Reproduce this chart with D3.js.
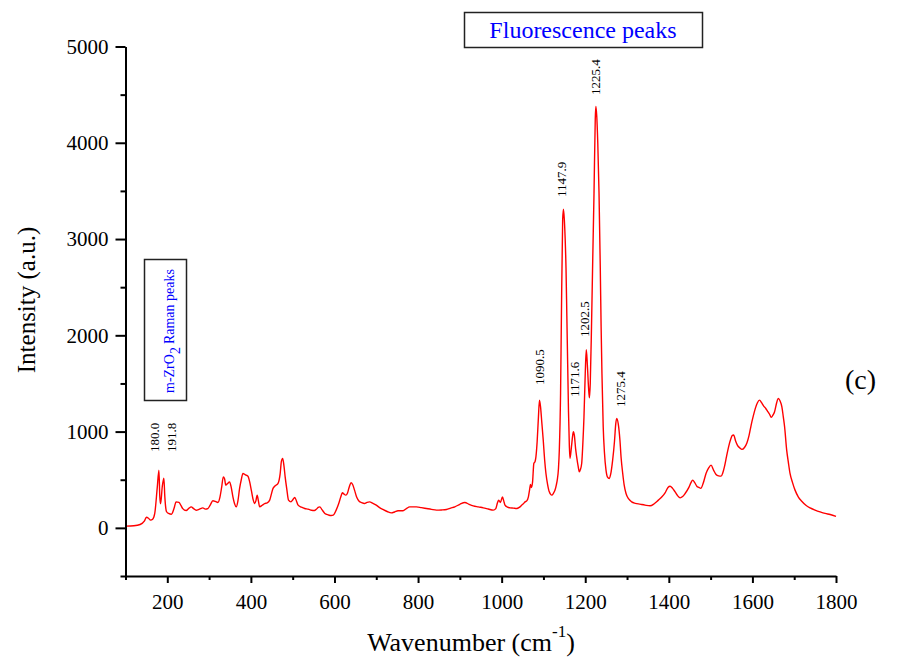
<!DOCTYPE html>
<html>
<head>
<meta charset="utf-8">
<script src="https://cdn.jsdelivr.net/npm/d3@7"></script>
<style>
  html, body { margin: 0; padding: 0; background: #fff; }
  svg { display: block; }
  text { font-family: "Liberation Serif", "Times New Roman", serif; }
</style>
</head>
<body>
<svg id="chart" width="912" height="659"></svg>
<script>
// Raman spectrum, sample (c)
const wavenumber = [
  100, 120, 135, 145, 150, 155, 160, 165, 170, 176, 180, 182, 184, 188, 191.8, 194, 198, 203, 210, 216,
  221, 228, 233, 237, 245, 252, 257, 263, 269, 277, 285, 291, 297, 303, 309, 315, 321, 326, 330, 334,
  337, 340, 344, 349, 353, 357, 361, 365, 369, 373, 377, 381, 387, 393, 397, 401, 405, 409, 412, 415,
  418, 421, 427, 433, 439, 445, 449, 453, 459, 465, 470, 473, 476, 479, 482, 486, 490, 496, 500, 505,
  509, 513, 521, 529, 537, 545, 552, 557, 561, 565, 570, 577, 585, 592, 597, 604, 610, 615, 619, 623,
  627, 631, 635, 640, 644, 648, 653, 659, 665, 672, 678, 684, 692, 700, 708, 716, 726, 736, 744, 752,
  764, 772, 780, 796, 808, 820, 832, 844, 856, 868, 878, 888, 900, 912, 922, 932, 944, 956, 968, 980,
  986, 990, 993, 997, 1002, 1005, 1008, 1014, 1020, 1028, 1036, 1044, 1048, 1052, 1056, 1060, 1064, 1067, 1069, 1071,
  1074, 1077, 1080, 1082, 1085, 1088, 1090.5, 1093, 1096, 1099.5, 1103, 1106, 1110, 1114, 1120, 1124, 1127.5, 1131, 1133, 1136,
  1138, 1141, 1143, 1146, 1147.9, 1150, 1152, 1154, 1156, 1158, 1160, 1162, 1163.5, 1167, 1170, 1171.6, 1174, 1177, 1179.5, 1183, 1185.8,
  1188, 1191.5, 1194, 1197, 1200, 1202.5, 1205, 1208, 1210, 1212, 1215, 1218, 1221, 1224, 1225.4, 1227.5, 1230, 1233, 1236, 1238,
  1240, 1243, 1246, 1249.7, 1253, 1257.6, 1261, 1265.6, 1270, 1273, 1275.4, 1279, 1283, 1286, 1289.7, 1293, 1297.6, 1304, 1311, 1320,
  1331, 1343, 1355, 1365, 1375, 1383, 1391, 1398, 1403, 1409, 1415, 1421, 1427, 1433, 1439, 1448, 1453, 1457, 1462, 1467,
  1472, 1476.5, 1482, 1489, 1495, 1501, 1507, 1513, 1519, 1525, 1529, 1533, 1538, 1543, 1548, 1552, 1555, 1560, 1564, 1570,
  1575, 1581, 1587, 1592, 1597, 1602, 1607, 1612, 1617, 1622, 1627, 1632, 1636, 1641, 1645, 1649, 1653, 1658, 1662, 1666,
  1670.5, 1674, 1677, 1682, 1686, 1690, 1696, 1702, 1710, 1718, 1728, 1738, 1750, 1762, 1774, 1786, 1800
];
const intensity = [
  18, 22, 35, 70, 110, 100, 80, 90, 150, 420, 600, 330, 250, 430, 515, 330, 170, 150, 142, 200,
  270, 265, 230, 200, 180, 205, 218, 200, 183, 195, 208, 195, 200, 240, 281, 275, 264, 320, 420, 530,
  510, 444, 460, 478, 420, 322, 250, 218, 280, 410, 500, 565, 550, 537, 480, 392, 300, 253, 280, 340,
  280, 218, 235, 253, 260, 288, 350, 410, 440, 462, 560, 690, 721, 650, 530, 400, 288, 270, 290, 316,
  280, 236, 215, 201, 195, 183, 180, 195, 212, 218, 190, 150, 135, 128, 132, 184, 250, 320, 364, 350,
  340, 360, 420, 468, 445, 392, 320, 277, 262, 253, 265, 270, 255, 236, 210, 191, 170, 156, 165, 177,
  177, 200, 218, 218, 210, 201, 192, 184, 186, 191, 205, 218, 245, 264, 245, 229, 218, 208, 196, 184,
  200, 260, 288, 264, 322, 280, 236, 215, 208, 205, 201, 218, 236, 250, 270, 280, 322, 400, 450, 420,
  478, 669, 690, 738, 900, 1150, 1325, 1260, 1100, 912, 700, 565, 450, 374, 340, 360, 390, 450, 496, 620,
  808, 1400, 2200, 3200, 3310, 3200, 3000, 2700, 2200, 1700, 1200, 850, 721, 842, 960, 1000, 960, 820, 738, 640, 582,
  600, 669, 850, 1154, 1600, 1850, 1700, 1450, 1350, 1500, 2090, 2800, 3476, 4250, 4376, 4280, 4000, 3476, 2700, 2090,
  1600, 1050, 780, 600, 530, 513, 560, 704, 900, 1080, 1137, 1080, 912, 720, 565, 450, 357, 300, 270, 255,
  246, 236, 229, 250, 288, 320, 364, 420, 433, 410, 374, 335, 312, 325, 357, 420, 470, 496, 470, 433,
  420, 410, 460, 565, 620, 652, 600, 555, 540, 537, 570, 634, 740, 842, 920, 960, 964, 900, 860, 830,
  815, 835, 884, 960, 1068, 1160, 1241, 1300, 1327, 1300, 1265, 1240, 1213, 1180, 1148, 1170, 1206, 1300, 1345, 1320,
  1258, 1150, 1050, 808, 680, 565, 470, 392, 320, 277, 235, 208, 185, 166, 150, 139, 120
];

// Peak positions written on the plot
const peakValues = [180.0, 191.8, 1090.5, 1147.9, 1171.6, 1202.5, 1225.4, 1275.4];
const peakLabels = ["180.0", "191.8", "1090.5", "1147.9", "1171.6", "1202.5", "1225.4", "1275.4"];

// Axis ticks
const xMajorTicks = [200, 400, 600, 800, 1000, 1200, 1400, 1600, 1800];
const xMinorTicks = [100, 300, 500, 700, 900, 1100, 1300, 1500, 1700];
const yMajorTicks = [0, 1000, 2000, 3000, 4000, 5000];
const yMinorTicks = [-500, 500, 1500, 2500, 3500, 4500];

const xTitle = "Wavenumber (cm";
const yTitle = "Intensity (a.u.)";
const boxTitleTop = "Fluorescence peaks";
const panelTag = "(c)";

const svg = d3.select("#chart");

const x = d3.scaleLinear().domain([100, 1800]).range([125.5, 836]);
const y = d3.scaleLinear().domain([-500, 5000]).range([576, 46.5]);

// spectrum
const pts = wavenumber.map((w, i) => [w, intensity[i]]);
const line = d3.line()
  .x(d => x(d[0]))
  .y(d => y(d[1]))
  .curve(d3.curveMonotoneX);

svg.append("path")
  .datum(pts)
  .attr("d", line)
  .attr("fill", "none")
  .attr("stroke", "#ff0000")
  .attr("stroke-width", 1.4)
  .attr("stroke-linejoin", "round");

// axes
const axisFont = 21;
const gLeft = svg.append("g").attr("transform", `translate(${x.range()[0]},0)`);
gLeft.call(d3.axisLeft(y).tickValues(yMajorTicks).tickSize(10).tickSizeOuter(0).tickPadding(7).tickFormat(d3.format("d")));
const gLeftMinor = svg.append("g").attr("transform", `translate(${x.range()[0]},0)`);
gLeftMinor.call(d3.axisLeft(y).tickValues(yMinorTicks).tickSize(5).tickSizeOuter(0).tickFormat(""));
gLeftMinor.select(".domain").remove();

const gBottom = svg.append("g").attr("transform", `translate(0,${y.range()[0]})`);
gBottom.call(d3.axisBottom(x).tickValues(xMajorTicks).tickSize(7).tickSizeOuter(0).tickPadding(11).tickFormat(d3.format("d")));
const gBottomMinor = svg.append("g").attr("transform", `translate(0,${y.range()[0]})`);
gBottomMinor.call(d3.axisBottom(x).tickValues(xMinorTicks).tickSize(4).tickSizeOuter(0).tickFormat(""));
gBottomMinor.select(".domain").remove();

svg.selectAll(".domain").attr("stroke", "#000").attr("stroke-width", 2);
svg.selectAll(".tick line").attr("stroke", "#000").attr("stroke-width", 2);
svg.selectAll(".tick text")
  .attr("font-family", "'Liberation Serif', 'Times New Roman', serif")
  .attr("font-size", axisFont)
  .attr("fill", "#000");

// axis titles
svg.append("text")
  .attr("transform", "translate(35,300) rotate(-90)")
  .attr("text-anchor", "middle")
  .attr("font-size", 25)
  .attr("fill", "#000")
  .text(yTitle);

const xt = svg.append("text")
  .attr("x", 471)
  .attr("y", 651)
  .attr("text-anchor", "middle")
  .attr("font-size", 26)
  .attr("fill", "#000");
xt.append("tspan").text(xTitle);
xt.append("tspan").attr("dy", -14).attr("font-size", 17).text("-1");
xt.append("tspan").attr("dy", 14).text(")");

// peak labels (rotated), offsets are layout only
const labelShift = [0.5, 12.5, 5, 3, 5.5, 2.6, 4.4, 8];
const labelBottom = [452, 452, 385, 197, 397, 337, 95, 407];
peakValues.forEach((v, i) => {
  svg.append("text")
    .attr("transform", `translate(${x(v) + labelShift[i]},${labelBottom[i]}) rotate(-90)`)
    .attr("font-size", 13)
    .attr("fill", "#000")
    .text(peakLabels[i]);
});

// fluorescence annotation box
svg.append("rect")
  .attr("x", 464.5).attr("y", 12.5).attr("width", 238).attr("height", 35)
  .attr("fill", "#fff").attr("stroke", "#222").attr("stroke-width", 1.5);
svg.append("text")
  .attr("x", 583).attr("y", 38)
  .attr("text-anchor", "middle")
  .attr("font-size", 24)
  .attr("fill", "#0000ff")
  .text(boxTitleTop);

// m-ZrO2 annotation box
svg.append("rect")
  .attr("x", 144.5).attr("y", 259.5).attr("width", 42).attr("height", 141)
  .attr("fill", "#fff").attr("stroke", "#222").attr("stroke-width", 1.5);
const zr = svg.append("text")
  .attr("transform", "translate(174,393) rotate(-90)")
  .attr("font-size", 14)
  .attr("fill", "#0000ff");
zr.append("tspan").text("m-ZrO");
zr.append("tspan").attr("dy", 6).text("2");
zr.append("tspan").attr("dy", -6).attr("dx", 3).text("Raman peaks");

// panel tag
svg.append("text")
  .attr("x", 845).attr("y", 389)
  .attr("font-size", 28)
  .attr("fill", "#000")
  .text(panelTag);
</script>
</body>
</html>
